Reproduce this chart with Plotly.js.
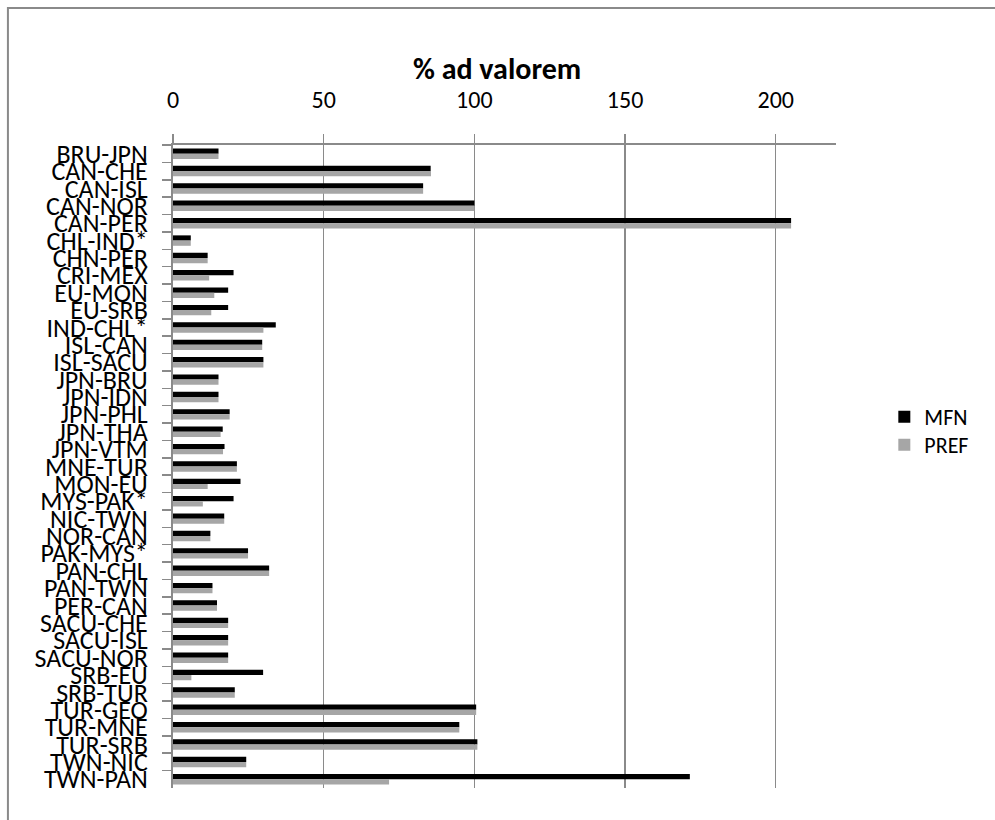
<!DOCTYPE html>
<html>
<head>
<meta charset="utf-8">
<script src="https://cdn.plot.ly/plotly-3.0.1.min.js"></script>
<style>
  html, body { margin: 0; padding: 0; background: #ffffff; }
  #chart { width: 995px; height: 820px; }
</style>
</head>
<body>
<div id="chart"></div>
<script>
const categories = [
  "BRU-JPN", "CAN-CHE", "CAN-ISL", "CAN-NOR", "CAN-PER", "CHL-IND*", "CHN-PER",
  "CRI-MEX", "EU-MON", "EU-SRB", "IND-CHL*", "ISL-CAN", "ISL-SACU", "JPN-BRU",
  "JPN-IDN", "JPN-PHL", "JPN-THA", "JPN-VTM", "MNE-TUR", "MON-EU", "MYS-PAK*",
  "NIC-TWN", "NOR-CAN", "PAK-MYS*", "PAN-CHL", "PAN-TWN", "PER-CAN", "SACU-CHE",
  "SACU-ISL", "SACU-NOR", "SRB-EU", "SRB-TUR", "TUR-GEO", "TUR-MNE", "TUR-SRB",
  "TWN-NIC", "TWN-PAN"
];
const mfnValues = [
  15.1, 85.5, 83.0, 100.0, 205.1, 5.9, 11.5,
  20.1, 18.3, 18.3, 34.1, 29.6, 30.0, 15.1,
  15.1, 18.8, 16.5, 17.1, 21.2, 22.4, 20.1,
  17.0, 12.4, 24.9, 31.9, 13.1, 14.6, 18.3,
  18.3, 18.3, 29.9, 20.5, 100.6, 95.0, 101.0,
  24.3, 171.5
];
const prefValues = [
  15.1, 85.6, 83.0, 100.0, 205.1, 5.9, 11.5,
  12.0, 13.7, 12.7, 30.0, 29.6, 30.0, 15.1,
  15.1, 18.8, 15.8, 16.6, 21.2, 11.5, 9.9,
  17.0, 12.4, 24.9, 31.9, 13.1, 14.6, 18.3,
  18.3, 18.3, 6.1, 20.5, 100.6, 95.0, 101.0,
  24.3, 71.7
];
const xTickValues = [0, 50, 100, 150, 200];
const seriesNames = ["MFN", "PREF"];

const fontFamily = 'Carlito, Calibri, "Open Sans", sans-serif';
const gridGrey = "#8a8a8a";

const traces = [
  {
    type: "bar", orientation: "h", name: seriesNames[0],
    y: categories, x: mfnValues,
    marker: { color: "#000000" },
    legend: "legend"
  },
  {
    type: "bar", orientation: "h", name: seriesNames[1],
    y: categories, x: prefValues,
    marker: { color: "#a6a6a6" },
    legend: "legend2"
  }
];

const plotL = 173, plotR = 835.7, plotT = 145, plotB = 788;
const pw = plotR - plotL, ph = plotB - plotT;
const px = v => (v - plotL) / pw;
const py = v => (plotB - v) / ph;

const legendStyle = {
  font: { family: fontFamily, size: 22, color: "#000000" },
  itemwidth: 30,
  bgcolor: "rgba(0,0,0,0)",
  xanchor: "left", yanchor: "middle"
};

const layout = {
  width: 995, height: 820,
  margin: { l: plotL, r: 995 - plotR, t: plotT, b: 820 - plotB },
  paper_bgcolor: "#ffffff", plot_bgcolor: "#ffffff",
  font: { family: fontFamily, color: "#000000", size: 20 },
  title: {
    text: "<b>% ad valorem</b>",
    font: { family: fontFamily, size: 30, color: "#000000" },
    x: px(497), xref: "paper", xanchor: "center",
    y: 1 - 68 / 820, yref: "container", yanchor: "middle"
  },
  barmode: "group",
  bargap: 0.4, bargroupgap: 0,
  xaxis: {
    side: "top",
    range: [0, 220],
    tickvals: xTickValues,
    ticktext: xTickValues.map(String),
    ticks: "outside", ticklen: 9, tickwidth: 1.5, tickcolor: gridGrey,
    ticklabelstandoff: 16,
    tickfont: { family: fontFamily, size: 24, color: "#000000" },
    showgrid: true, gridcolor: gridGrey, gridwidth: 1.5,
    showline: true, linecolor: gridGrey, linewidth: 2,
    zeroline: false, fixedrange: true
  },
  yaxis: {
    type: "category",
    autorange: "reversed",
    tickmode: "linear", tick0: 0, dtick: 1,
    ticks: "outside", ticklen: 9, tickwidth: 1.5, tickcolor: gridGrey,
    tickson: "boundaries",
    ticklabelstandoff: 18,
    tickfont: { family: fontFamily, size: 26, color: "#000000" },
    showgrid: false,
    showline: true, linecolor: gridGrey, linewidth: 2,
    zeroline: false, fixedrange: true
  },
  legend: Object.assign({}, legendStyle, { x: px(884), y: py(417) }),
  legend2: Object.assign({}, legendStyle, { x: px(884), y: py(445) }),
  shapes: [
    {
      type: "path", xref: "paper", yref: "paper",
      path: "M " + px(8) + " " + py(840) +
            " L " + px(8) + " " + py(8) +
            " L " + px(1000) + " " + py(8),
      line: { color: "#8a8a8a", width: 2 }
    }
  ],
  showlegend: true
};

Plotly.newPlot("chart", traces, layout, { displayModeBar: false, staticPlot: true });
</script>
</body>
</html>
